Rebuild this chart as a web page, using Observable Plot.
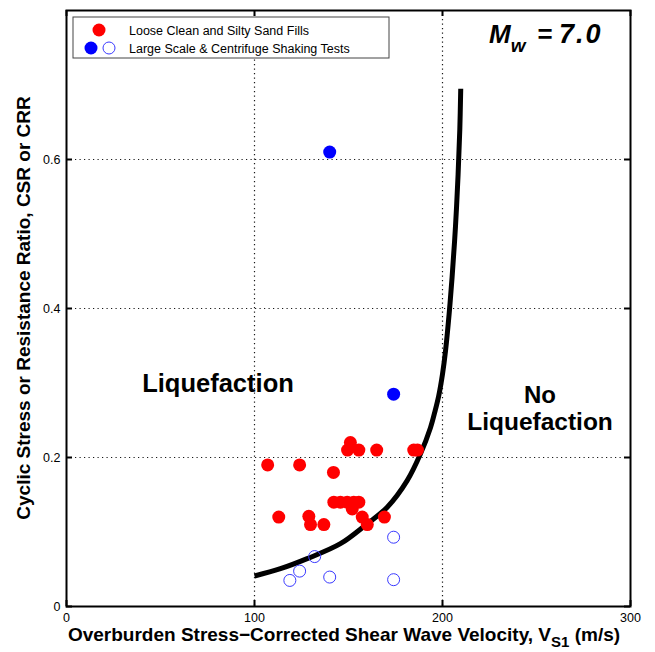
<!DOCTYPE html>
<html>
<head>
<meta charset="utf-8">
<script src="https://cdn.jsdelivr.net/npm/d3@7"></script>
<script src="https://cdn.jsdelivr.net/npm/@observablehq/plot@0.6"></script>
<style>
  html, body { margin: 0; padding: 0; background: #fff; }
  #chart svg { display: block; }
</style>
</head>
<body>
<div id="chart"></div>
<script>
// Loose clean and silty sand fills (field case histories)
const fillVs1 = [107, 124, 142, 151, 149.5, 155.5, 165, 184.7, 186.7,
                 142.2, 145.7, 149.3, 152.8, 155.5, 152, 112.9, 128.9, 129.8, 136.9, 157.3, 160, 169.1];
const fillCSR = [0.19, 0.19, 0.18, 0.22, 0.21, 0.21, 0.21, 0.21, 0.21,
                 0.14, 0.14, 0.14, 0.14, 0.14, 0.131, 0.12, 0.121, 0.11, 0.11, 0.12, 0.11, 0.12];

// Large scale & centrifuge shaking tests: liquefied (filled) and non-liquefied (open)
const testLiqVs1 = [140, 174];
const testLiqCSR = [0.61, 0.285];
const testNonVs1 = [174, 132, 124, 118.8, 140, 174];
const testNonCSR = [0.093, 0.067, 0.0475, 0.035, 0.0395, 0.036];

// CRR boundary curve for Mw = 7.0
const curveVs1 = [100, 113.8, 128, 145.7, 159.9, 170.6, 181.2, 188.3, 193.6, 196, 198, 200, 201.6, 203.5, 205.1, 206.9, 208.3, 209.2, 209.7];
const curveCRR = [0.041, 0.0507, 0.0642, 0.0843, 0.111, 0.1333, 0.169, 0.205, 0.240, 0.262, 0.283, 0.312, 0.343, 0.392, 0.442, 0.510, 0.58, 0.64, 0.695];

const xTicks = [0, 100, 200, 300];
const yTicks = [0, 0.2, 0.4, 0.6];
const xGrid = [100, 200];
const yGrid = [0.2, 0.4, 0.6];

const pts = (xs, ys) => xs.map((x, i) => ({x, y: ys[i]}));
const fills = pts(fillVs1, fillCSR);
const testsLiq = pts(testLiqVs1, testLiqCSR);
const testsNon = pts(testNonVs1, testNonCSR);
const curve = pts(curveVs1, curveCRR);

const W = 655, H = 652;
const mL = 66, mR = 25, mT = 10, mB = 46;
const frameH = H - mT - mB, frameW = W - mL - mR;
const tickLen = 6;

const svg = Plot.plot({
  width: W,
  height: H,
  marginLeft: mL,
  marginRight: mR,
  marginTop: mT,
  marginBottom: mB,
  style: {fontFamily: "'Liberation Sans', Arial, sans-serif", fontSize: "12.5px", color: "black", background: "white"},
  x: {domain: [0, 300]},
  y: {domain: [0, 0.8]},
  marks: [
    Plot.ruleX(xGrid, {stroke: "black", strokeWidth: 1.2, strokeDasharray: "1.2,3.3", strokeOpacity: 0.9}),
    Plot.ruleY(yGrid, {stroke: "black", strokeWidth: 1.2, strokeDasharray: "1.2,3.3", strokeOpacity: 0.9}),
    // inward tick marks on all four sides
    Plot.tickX(xTicks, {x: d => d, stroke: "black", strokeWidth: 2, insetTop: frameH - tickLen}),
    Plot.tickX(xTicks, {x: d => d, stroke: "black", strokeWidth: 2, insetBottom: frameH - tickLen}),
    Plot.tickY(yTicks, {y: d => d, stroke: "black", strokeWidth: 2, insetRight: frameW - tickLen}),
    Plot.tickY(yTicks, {y: d => d, stroke: "black", strokeWidth: 2, insetLeft: frameW - tickLen}),
    Plot.axisX({ticks: xTicks, tickSize: 0, tickPadding: 7, label: null, tickFormat: d => String(d), fontSize: 12.5}),
    Plot.axisY({ticks: yTicks, tickSize: 0, tickPadding: 6, label: null, tickFormat: d => String(d), fontSize: 12.5}),
    Plot.line(curve, {x: "x", y: "y", stroke: "black", strokeWidth: 5, curve: "catmull-rom", strokeLinecap: "butt"}),
    Plot.dot(testsNon, {x: "x", y: "y", r: 6, stroke: "#3a3aff", strokeWidth: 1, fill: "none"}),
    Plot.dot(fills, {x: "x", y: "y", r: 6.5, fill: "#ff0000", stroke: "none"}),
    Plot.dot(testsLiq, {x: "x", y: "y", r: 6.5, fill: "#0000ff", stroke: "none"}),
    Plot.frame({stroke: "black", strokeWidth: 2})
  ]
});

const g = d3.select(svg);
const font = "'Liberation Sans', Arial, sans-serif";

// Legend
const leg = g.append("g").attr("text-anchor", "start");
leg.append("rect").attr("x", 73).attr("y", 17).attr("width", 316).attr("height", 41)
  .attr("fill", "white").attr("stroke", "#444").attr("stroke-width", 1);
leg.append("circle").attr("cx", 99).attr("cy", 30).attr("r", 6.5).attr("fill", "#ff0000");
leg.append("circle").attr("cx", 91).attr("cy", 48).attr("r", 6.5).attr("fill", "#0000ff");
leg.append("circle").attr("cx", 109).attr("cy", 48).attr("r", 6).attr("fill", "none").attr("stroke", "#3a3aff");
leg.append("text").attr("x", 129).attr("y", 34.5).attr("font-family", font).attr("font-size", 12.5)
  .text("Loose Clean and Silty Sand Fills");
leg.append("text").attr("x", 129).attr("y", 52.5).attr("font-family", font).attr("font-size", 12.5)
  .text("Large Scale & Centrifuge Shaking Tests");

// Magnitude label
const mw = g.append("text").attr("text-anchor", "start").attr("y", 43).attr("font-family", font)
  .attr("font-weight", "bold").attr("font-style", "italic");
mw.append("tspan").attr("x", 489).attr("font-size", 26).text("M");
mw.append("tspan").attr("dy", 9).attr("font-size", 19).text("w");
mw.append("tspan").attr("x", 537).attr("dy", -9).attr("font-size", 26).text("=");
mw.append("tspan").attr("x", 559).attr("font-size", 27).attr("letter-spacing", 2).text("7.0");

// Region annotations
g.append("text").attr("x", 218).attr("y", 392).attr("text-anchor", "middle").attr("font-family", font)
  .attr("font-size", 25.5).attr("font-weight", "bold").text("Liquefaction");
g.append("text").attr("x", 540).attr("y", 403).attr("text-anchor", "middle").attr("font-family", font)
  .attr("font-size", 24).attr("font-weight", "bold").text("No");
g.append("text").attr("x", 540).attr("y", 430).attr("text-anchor", "middle").attr("font-family", font)
  .attr("font-size", 24.5).attr("font-weight", "bold").text("Liquefaction");

// Axis titles
const xt = g.append("text").attr("x", 344).attr("y", 641).attr("text-anchor", "middle")
  .attr("font-family", font).attr("font-size", 19).attr("font-weight", "bold");
xt.append("tspan").text("Overburden Stress\u2212Corrected Shear Wave Velocity, V");
xt.append("tspan").attr("dy", 6).attr("font-size", 15).text("S1");
xt.append("tspan").attr("dy", -6).text(" (m/s)");

g.append("text").attr("transform", "translate(30,308) rotate(-90)").attr("text-anchor", "middle")
  .attr("font-family", font).attr("font-size", 19).attr("font-weight", "bold")
  .text("Cyclic Stress or Resistance Ratio, CSR or CRR");

document.getElementById("chart").appendChild(svg);
</script>
</body>
</html>
